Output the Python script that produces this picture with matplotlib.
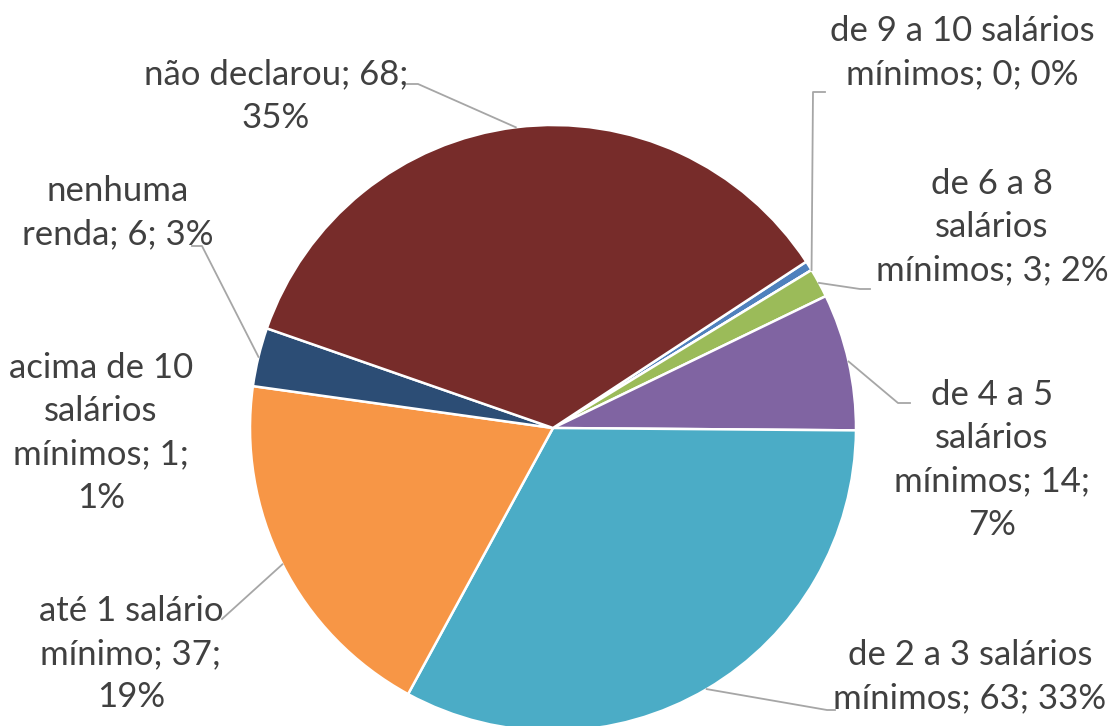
import numpy as np
import matplotlib
matplotlib.use("Agg")
import matplotlib.pyplot as plt

# ---- data (Excel series order, clockwise) ----
categories = ["acima de 10 salários mínimos", "de 9 a 10 salários mínimos",
              "de 6 a 8 salários mínimos", "de 4 a 5 salários mínimos",
              "de 2 a 3 salários mínimos", "até 1 salário mínimo",
              "nenhuma renda", "não declarou"]
values = [1, 0, 3, 14, 63, 37, 6, 68]
label_texts = ["acima de 10\nsalários\nmínimos; 1;\n1%",
               "de 9 a 10 salários\nmínimos; 0; 0%",
               "de 6 a 8\nsalários\nmínimos; 3; 2%",
               "de 4 a 5\nsalários\nmínimos; 14;\n7%",
               "de 2 a 3 salários\nmínimos; 63; 33%",
               "até 1 salário\nmínimo; 37;\n19%",
               "nenhuma\nrenda; 6; 3%",
               "não declarou; 68;\n35%"]
colors = ["#4F81BD", "#C0504D", "#9BBB59", "#8064A2",
          "#4BACC6", "#F79646", "#2C4D75", "#772C2A"]

# label block centers (pixels, from top-left) and leader start points
label_pos = [(101, 433), (962, 53), (992, 227), (992, 460),
             (970, 677), (131, 654), (118, 213), (276, 96)]
leader_start = [None, [(825, 92), (813, 92)], [(870, 289), (860, 289)],
                [(910, 403), (898, 403)], [(835, 710), (827, 710)],
                [(222, 619)], [(192, 246), (202, 246)], [(407, 84), (418, 84)]]

W, H = 1111, 726
DPI = 100
fig = plt.figure(figsize=(W / DPI, H / DPI), dpi=DPI)

cx, cy, R = 553, 428, 303
start = 33.3
ax = fig.add_axes([(cx - R) / W, (H - cy - R) / H, 2 * R / W, 2 * R / H])
ax.pie(values, colors=colors, startangle=start, counterclock=False,
       radius=1.0, wedgeprops=dict(edgecolor="white", linewidth=1.8))
ax.set_xlim(-1, 1)
ax.set_ylim(-1, 1)
ax.set_aspect("equal")
ax.axis("off")

# overlay in pixel coordinates
ov = fig.add_axes([0, 0, 1, 1], zorder=5)
ov.set_xlim(0, W)
ov.set_ylim(H, 0)
ov.axis("off")
ov.patch.set_alpha(0)

total = sum(values)
cum = 0
for i, v in enumerate(values):
    mid = start - (cum + v / 2) / total * 360
    cum += v
    ex = cx + R * np.cos(np.radians(mid))
    ey = cy - R * np.sin(np.radians(mid))
    lx, ly = label_pos[i]
    ov.text(lx, ly, label_texts[i], ha="center", va="center",
            fontsize=25, family="Lato", color="#404040", linespacing=1.43)
    if leader_start[i] is not None:
        pts = leader_start[i] + [(ex, ey)]
        xs = [p[0] for p in pts]
        ys = [p[1] for p in pts]
        ov.plot(xs, ys, color="#A6A6A6", lw=1.3)

fig.savefig("out.png", dpi=DPI)
